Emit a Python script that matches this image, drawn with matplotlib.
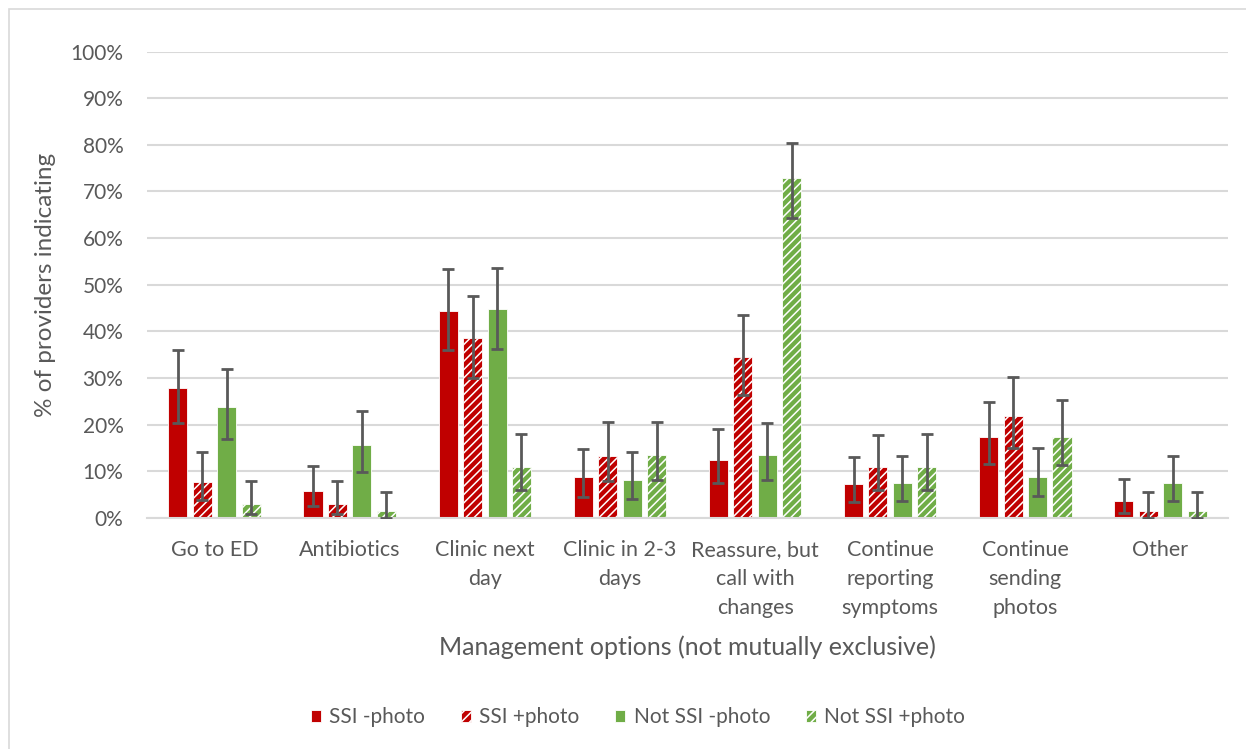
import matplotlib.pyplot as plt
import numpy as np
from matplotlib.patches import Rectangle
from matplotlib.ticker import PercentFormatter

categories = ["Go to ED", "Antibiotics", "Clinic next\nday", "Clinic in 2-3\ndays",
              "Reassure, but\ncall with\nchanges", "Continue\nreporting\nsymptoms",
              "Continue\nsending\nphotos", "Other"]
series = ["SSI -photo", "SSI +photo", "Not SSI -photo", "Not SSI +photo"]

ssi_nophoto = [27.8, 5.8, 44.4, 8.7, 12.4, 7.3, 17.4, 3.6]
ssi_nophoto_hi = [36.0, 11.2, 53.3, 14.7, 19.1, 13.0, 24.9, 8.3]
ssi_nophoto_lo = [20.4, 2.5, 36.0, 4.6, 7.4, 3.5, 11.6, 1.1]

ssi_photo = [7.8, 3.1, 38.5, 13.3, 34.5, 10.9, 21.9, 1.5]
ssi_photo_hi = [14.1, 7.9, 47.6, 20.5, 43.5, 17.8, 30.3, 5.6]
ssi_photo_lo = [3.9, 0.9, 30.0, 8.0, 26.3, 6.1, 15.1, 0.0]

notssi_nophoto = [23.8, 15.6, 44.7, 8.1, 13.5, 7.4, 8.8, 7.4]
notssi_nophoto_hi = [31.9, 23.0, 53.6, 14.1, 20.3, 13.3, 15.1, 13.3]
notssi_nophoto_lo = [16.9, 9.9, 36.2, 4.1, 8.1, 3.7, 4.7, 3.6]

notssi_photo = [3.1, 1.5, 11.0, 13.4, 72.9, 11.0, 17.4, 1.5]
notssi_photo_hi = [7.9, 5.6, 17.9, 20.6, 80.4, 18.0, 25.3, 5.6]
notssi_photo_lo = [0.9, 0.0, 6.1, 8.1, 64.3, 6.1, 11.3, 0.0]

RED = "#C00000"
GREEN = "#70AD47"
TXT = "#595959"

plt.rcParams['font.family'] = ['Lato', 'DejaVu Sans']
plt.rcParams['hatch.linewidth'] = 1.1

fig = plt.figure(figsize=(12.46, 7.49), dpi=100)
ax = fig.add_axes([147 / 1246, 231 / 749, 1081 / 1246, 466.5 / 749])

# chart frame
fig.patches.append(Rectangle((9 / 1246, -0.1), 1.2, (740 / 749) + 0.1, transform=fig.transFigure,
                             fill=False, edgecolor="#D9D9D9", linewidth=1.2))

x = np.arange(len(categories))
step = 0.181
width = 0.141
data = [
    (ssi_nophoto, ssi_nophoto_hi, ssi_nophoto_lo, RED, None),
    (ssi_photo, ssi_photo_hi, ssi_photo_lo, RED, "////"),
    (notssi_nophoto, notssi_nophoto_hi, notssi_nophoto_lo, GREEN, None),
    (notssi_photo, notssi_photo_hi, notssi_photo_lo, GREEN, "////"),
]
for i, (vals, hi, lo, col, hatch) in enumerate(data):
    pos = x + (i - 1.5) * step
    vals = np.array(vals)
    yerr = [vals - np.array(lo), np.array(hi) - vals]
    if hatch:
        ax.bar(pos, vals, width, color=col, edgecolor="white", hatch=hatch,
               linewidth=0.6, label=series[i], zorder=2)
    else:
        ax.bar(pos, vals, width, color=col, edgecolor="white", linewidth=0.6,
               label=series[i], zorder=2)
    ax.errorbar(pos, vals, yerr=yerr, fmt="none", ecolor=TXT, elinewidth=2,
                capsize=4.5, capthick=2, zorder=3)

ax.set_ylim(0, 100)
ax.set_xlim(-0.5, len(categories) - 0.5)
ax.set_yticks(np.arange(0, 101, 10))
ax.yaxis.set_major_formatter(PercentFormatter(decimals=0))
ax.grid(axis="y", color="#D9D9D9", linewidth=1.5, zorder=0)
ax.set_axisbelow(True)
for s in ["top", "right", "left"]:
    ax.spines[s].set_visible(False)
ax.spines["bottom"].set_color("#D9D9D9")
ax.spines["bottom"].set_linewidth(1.5)
ax.tick_params(axis="both", length=0, colors=TXT)
ax.tick_params(axis="x", labelsize=15.5, pad=16)
ax.tick_params(axis="y", labelsize=15, pad=17)
ax.set_xticks(x)
ax.set_xticklabels(categories, linespacing=1.55)

ax.set_ylabel("% of providers indicating", fontsize=17.5, color=TXT, labelpad=10)
ax.set_xlabel("Management options (not mutually exclusive)", fontsize=18, color=TXT, labelpad=13)

leg = ax.legend(loc="center", bbox_to_anchor=(638 / 1246, (749 - 717) / 749),
                bbox_transform=fig.transFigure,
                ncol=4, frameon=False, fontsize=15, handlelength=0.5, handleheight=0.5,
                handletextpad=0.4, columnspacing=1.7)
for t in leg.get_texts():
    t.set_color(TXT)

fig.savefig("out.png", dpi=100)
